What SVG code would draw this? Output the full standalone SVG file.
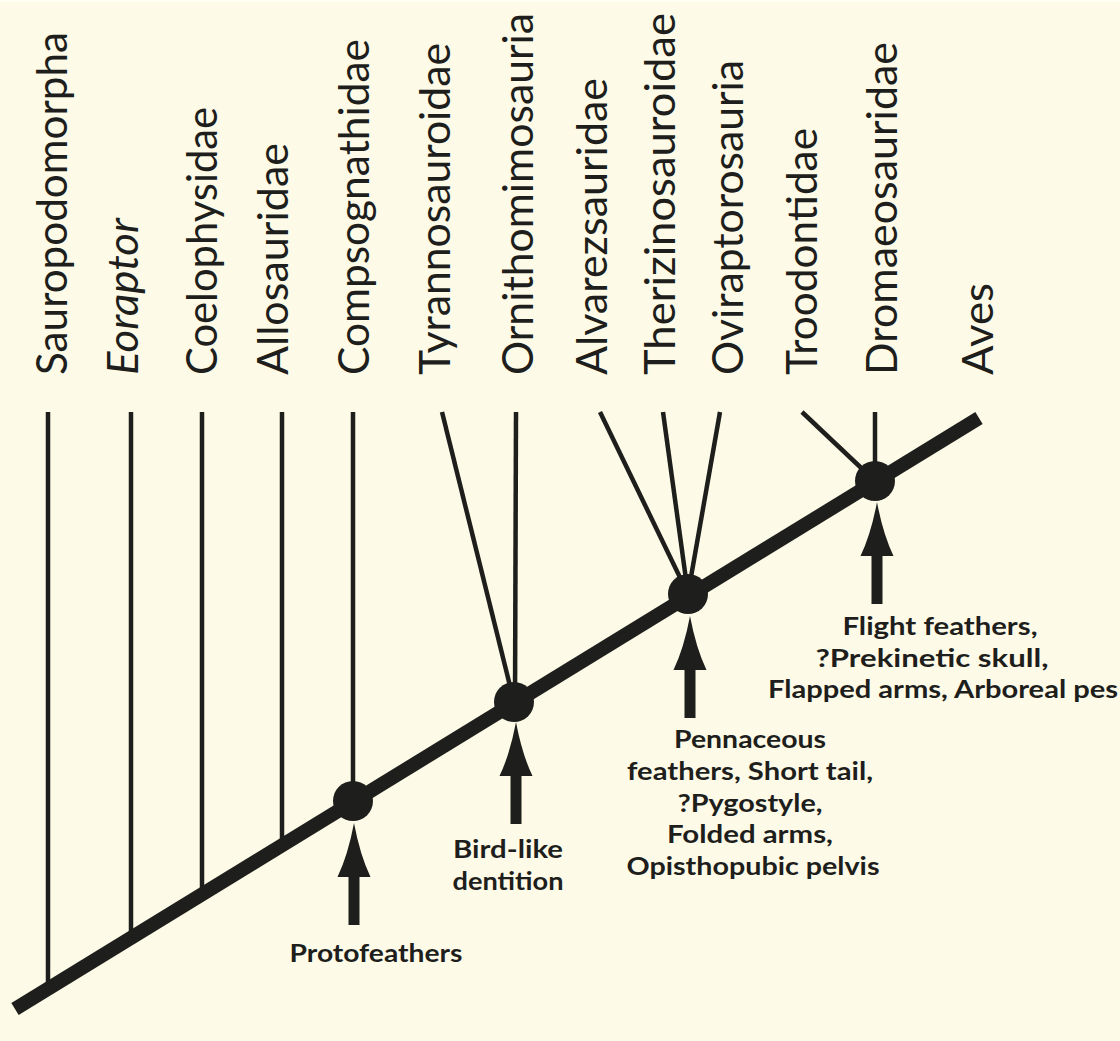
<svg xmlns="http://www.w3.org/2000/svg" xmlns:xlink="http://www.w3.org/1999/xlink" width="1120" height="1041" viewBox="0 0 1120 1041">
<style>
.tax{font-family:Lato,"Open Sans","Liberation Sans",sans-serif;font-size:42px;font-weight:400;fill:#1e1e1c}
.it{font-style:italic}
.br{stroke:#1e1e1c;stroke-width:4.5;fill:none;stroke-linecap:butt}
.main{stroke:#1e1e1c;stroke-width:14;fill:none;stroke-linecap:butt}
.node{fill:#1e1e1c}
.arr{fill:#1e1e1c}
.lab{font-family:Lato,"Open Sans","Liberation Sans",sans-serif;font-size:24px;font-weight:700;fill:#1e1e1c;text-anchor:middle}
</style>
<defs>
<path id="arrow" d="M0,0 Q6,32 16.5,54 L5.5,54 L5.5,102 L-5.5,102 L-5.5,54 L-16.5,54 Q-6,32 0,0 Z"/>
</defs>
<rect x="0" y="0" width="1120" height="1041" fill="#fdfbe7"/>
<rect x="0" y="0" width="1120" height="2" fill="#fefef3"/>

<g id="taxa">
<g id="t-sauropodomorpha"><text class="tax" transform="translate(67,375) rotate(-90)" textLength="343" lengthAdjust="spacingAndGlyphs">Sauropodomorpha</text></g>
<g id="t-eoraptor"><text class="tax it" transform="translate(138,375) rotate(-90)" textLength="157" lengthAdjust="spacingAndGlyphs">Eoraptor</text></g>
<g id="t-coelophysidae"><text class="tax" transform="translate(217,375) rotate(-90)" textLength="268" lengthAdjust="spacingAndGlyphs">Coelophysidae</text></g>
<g id="t-allosauridae"><text class="tax" transform="translate(288,375) rotate(-90)" textLength="232" lengthAdjust="spacingAndGlyphs">Allosauridae</text></g>
<g id="t-compsognathidae"><text class="tax" transform="translate(369,375) rotate(-90)" textLength="336" lengthAdjust="spacingAndGlyphs">Compsognathidae</text></g>
<g id="t-tyrannosauroidae"><text class="tax" transform="translate(450,375) rotate(-90)" textLength="332" lengthAdjust="spacingAndGlyphs">Tyrannosauroidae</text></g>
<g id="t-ornithomimosauria"><text class="tax" transform="translate(533,375) rotate(-90)" textLength="362" lengthAdjust="spacingAndGlyphs">Ornithomimosauria</text></g>
<g id="t-alvarezsauridae"><text class="tax" transform="translate(607,375) rotate(-90)" textLength="297" lengthAdjust="spacingAndGlyphs">Alvarezsauridae</text></g>
<g id="t-therizinosauroidae"><text class="tax" transform="translate(675,375) rotate(-90)" textLength="362" lengthAdjust="spacingAndGlyphs">Therizinosauroidae</text></g>
<g id="t-oviraptorosauria"><text class="tax" transform="translate(743,375) rotate(-90)" textLength="315" lengthAdjust="spacingAndGlyphs">Oviraptorosauria</text></g>
<g id="t-troodontidae"><text class="tax" transform="translate(817,375) rotate(-90)" textLength="247" lengthAdjust="spacingAndGlyphs">Troodontidae</text></g>
<g id="t-dromaeosauridae"><text class="tax" transform="translate(897,375) rotate(-90)" textLength="333" lengthAdjust="spacingAndGlyphs">Dromaeosauridae</text></g>
<g id="t-aves"><text class="tax" transform="translate(993,375) rotate(-90)" textLength="92" lengthAdjust="spacingAndGlyphs">Aves</text></g>
</g>

<g id="connectors">
<line class="br" x1="48" y1="412" x2="48" y2="992"/>
<line class="br" x1="131" y1="412" x2="131" y2="940"/>
<line class="br" x1="202" y1="412" x2="202" y2="896"/>
<line class="br" x1="282" y1="412" x2="282" y2="847"/>
<line class="br" x1="353" y1="412" x2="353" y2="801"/>
<line class="br" x1="442" y1="412" x2="514" y2="702"/>
<line class="br" x1="516" y1="412" x2="515" y2="702"/>
<line class="br" x1="600" y1="412" x2="688" y2="594"/>
<line class="br" x1="663" y1="412" x2="688" y2="594"/>
<line class="br" x1="720" y1="412" x2="688" y2="594"/>
<line class="br" x1="802" y1="412" x2="875" y2="481"/>
<line class="br" x1="875" y1="412" x2="875" y2="481"/>
<line id="backbone" class="main" x1="15" y1="1009" x2="979" y2="418"/>
</g>

<g id="nodes">
<circle id="n-coelurosauria" class="node" cx="353" cy="801" r="20"/>
<circle id="n-maniraptoriformes" class="node" cx="514" cy="702" r="20"/>
<circle id="n-maniraptora" class="node" cx="688" cy="594" r="20"/>
<circle id="n-paraves" class="node" cx="875" cy="481" r="20"/>
</g>

<g id="arrows">
<use xlink:href="#arrow" class="arr" x="354" y="823"/>
<use xlink:href="#arrow" class="arr" x="516" y="722"/>
<use xlink:href="#arrow" class="arr" x="690" y="616"/>
<use xlink:href="#arrow" class="arr" x="877" y="502"/>
</g>

<g id="annotations">
<g id="a-protofeathers"><text class="lab" x="376" y="962" textLength="173" lengthAdjust="spacingAndGlyphs">Protofeathers</text></g>
<g id="a-birdlike">
<text class="lab" x="508" y="858" textLength="110" lengthAdjust="spacingAndGlyphs">Bird-like</text>
<text class="lab" x="508" y="890" textLength="111" lengthAdjust="spacingAndGlyphs">dentition</text>
</g>
<g id="a-pennaceous">
<text class="lab" x="750" y="748" textLength="152" lengthAdjust="spacingAndGlyphs">Pennaceous</text>
<text class="lab" x="750" y="780" textLength="246" lengthAdjust="spacingAndGlyphs">feathers, Short tail,</text>
<text class="lab" x="750" y="812" textLength="145" lengthAdjust="spacingAndGlyphs">?Pygostyle,</text>
<text class="lab" x="750" y="843" textLength="166" lengthAdjust="spacingAndGlyphs">Folded arms,</text>
<text class="lab" x="753" y="875" textLength="253" lengthAdjust="spacingAndGlyphs">Opisthopubic pelvis</text>
</g>
<g id="a-flight">
<text class="lab" x="940" y="635" textLength="195" lengthAdjust="spacingAndGlyphs">Flight feathers,</text>
<text class="lab" x="932" y="667" textLength="233" lengthAdjust="spacingAndGlyphs">?Prekinetic skull,</text>
<text class="lab" x="943" y="698" textLength="350" lengthAdjust="spacingAndGlyphs">Flapped arms, Arboreal pes</text>
</g>
</g>
</svg>
